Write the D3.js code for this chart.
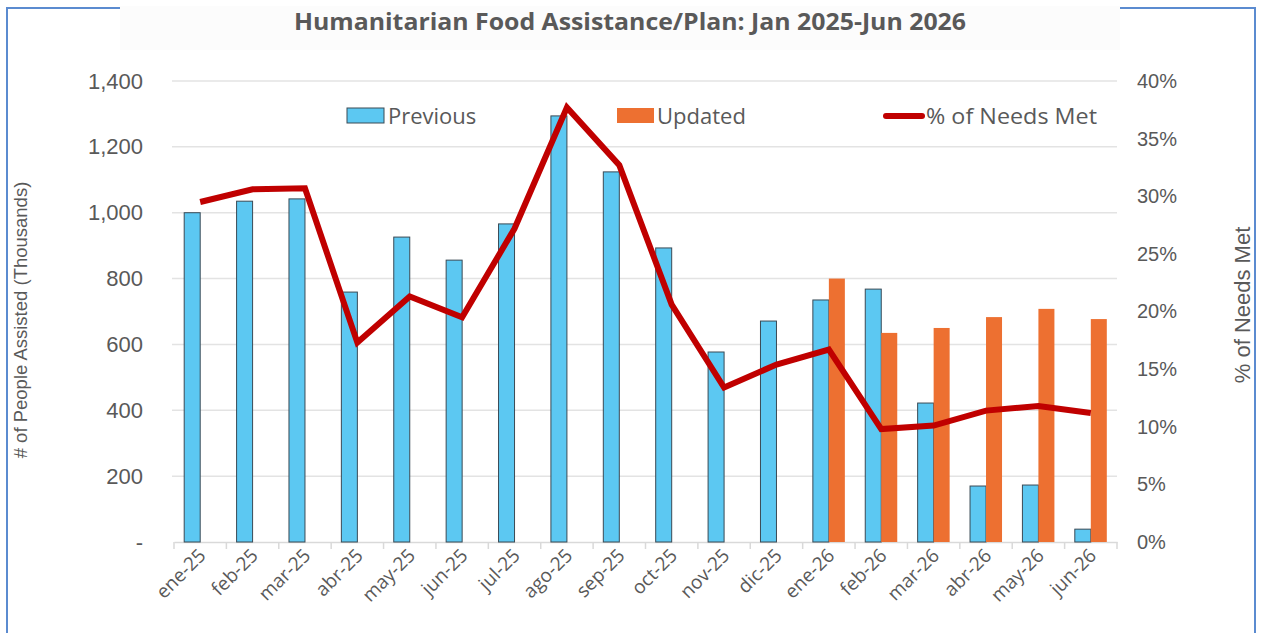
<!DOCTYPE html>
<html>
<head>
<meta charset="utf-8">
<script src="https://cdn.jsdelivr.net/npm/d3@7"></script>
<style>
  body { margin: 0; background: #fff; }
  .tick text { fill: #595959; }
</style>
</head>
<body>
<div id="chart"></div>
<script>
const months = ["ene-25", "feb-25", "mar-25", "abr-25", "may-25", "jun-25", "jul-25", "ago-25", "sep-25",
   "oct-25", "nov-25", "dic-25", "ene-26", "feb-26", "mar-26", "abr-26", "may-26", "jun-26"];
const previous = [1000, 1035, 1042, 759, 926, 856, 966, 1294, 1124, 893, 577, 671, 735, 768, 422, 170, 173, 39];
const updated = [null, null, null, null, null, null, null, null, null, null, null, null, 800, 635, 650, 683, 708, 677];
const needsMet = [29.5, 30.6, 30.7, 17.3, 21.3, 19.5, 27.2, 37.7, 32.7, 20.6, 13.4, 15.4, 16.7, 9.8, 10.1, 11.4, 11.8, 11.2];
const leftTicks = [0, 200, 400, 600, 800, 1000, 1200, 1400];
const rightTicks = [0, 5, 10, 15, 20, 25, 30, 35, 40];

const width = 1263;
const height = 633;
const margin = { top: 81, right: 146, bottom: 91, left: 174 };

const narrow = "'Liberation Sans Narrow', 'Arial Narrow', 'Open Sans', sans-serif";
const gray = "#595959";

const svg = d3.select("#chart").append("svg")
   .attr("width", width)
   .attr("height", height);

// frame
svg.append("rect")
   .attr("x", 7).attr("y", 8)
   .attr("width", 1248).attr("height", 640)
   .attr("fill", "none")
   .attr("stroke", "#5b8bd0")
   .attr("stroke-width", 2);

svg.append("rect")
   .attr("x", 120).attr("y", 6)
   .attr("width", 1000).attr("height", 44)
   .attr("fill", "#fcfcfc");

svg.append("text")
   .attr("x", 630)
   .attr("y", 30)
   .attr("text-anchor", "middle")
   .attr("textLength", 672)
   .attr("lengthAdjust", "spacingAndGlyphs")
   .style("font-family", narrow)
   .style("font-weight", "bold")
   .style("font-size", "24px")
   .style("fill", gray)
   .text("Humanitarian Food Assistance/Plan: Jan 2025-Jun 2026");

const x = d3.scaleBand()
   .domain(months)
   .range([margin.left, width - margin.right]);

const y = d3.scaleLinear()
   .domain([0, 1400])
   .range([height - margin.bottom, margin.top]);

const y2 = d3.scaleLinear()
   .domain([0, 40])
   .range([height - margin.bottom, margin.top]);

const barW = 16;

// gridlines
svg.append("g")
   .selectAll("line")
   .data(leftTicks.slice(1))
   .enter()
   .append("line")
   .attr("x1", margin.left - 2)
   .attr("x2", width - margin.right)
   .attr("y1", d => y(d))
   .attr("y2", d => y(d))
   .attr("stroke", "#e3e3e3")
   .attr("stroke-width", 1.5);

// left axis
const yAxis = d3.axisLeft(y)
   .tickValues(leftTicks)
   .tickSize(0)
   .tickPadding(31)
   .tickFormat(d => d === 0 ? "-" : d3.format(",")(d));

svg.append("g")
   .attr("transform", `translate(${margin.left},0)`)
   .call(yAxis)
   .call(g => g.select(".domain").remove())
   .selectAll("text")
   .style("font-family", "'Liberation Sans', Arial, sans-serif")
   .style("font-size", "22px");

// right axis
const yAxis2 = d3.axisRight(y2)
   .tickValues(rightTicks)
   .tickSize(0)
   .tickPadding(20)
   .tickFormat(d => d + "%");

svg.append("g")
   .attr("transform", `translate(${width - margin.right},0)`)
   .call(yAxis2)
   .call(g => g.select(".domain").remove())
   .selectAll("text")
   .style("font-family", "'Liberation Sans', Arial, sans-serif")
   .style("font-size", "20px");

// x axis
const xAxis = d3.axisBottom(x).tickSize(0).tickPadding(0);

const xg = svg.append("g")
   .attr("transform", `translate(0,${height - margin.bottom})`)
   .call(xAxis);

xg.select(".domain")
   .attr("stroke", "#d9d9d9")
   .attr("stroke-width", 1.5);

xg.selectAll(".tick text")
   .attr("text-anchor", "end")
   .attr("transform", "translate(2,10) rotate(-45)")
   .attr("dy", "0.35em")
   .style("font-family", narrow)
   .style("font-size", "19px");

// tick marks at band edges
xg.append("g")
   .selectAll("line")
   .data(months.concat(["end"]))
   .enter()
   .append("line")
   .attr("x1", (d, i) => margin.left + i * x.bandwidth())
   .attr("x2", (d, i) => margin.left + i * x.bandwidth())
   .attr("y1", 0)
   .attr("y2", 7)
   .attr("stroke", "#d9d9d9")
   .attr("stroke-width", 1.5);

// bars
svg.append("g")
   .selectAll("rect")
   .data(months)
   .enter()
   .append("rect")
   .attr("x", d => x(d) + x.bandwidth() / 2 - barW)
   .attr("y", (d, i) => y(previous[i]))
   .attr("width", barW)
   .attr("height", (d, i) => y(0) - y(previous[i]))
   .attr("fill", "#5cc8f2")
   .attr("stroke", "#3a4a55")
   .attr("stroke-width", 1);

svg.append("g")
   .selectAll("rect")
   .data(months.filter((d, i) => updated[i] != null))
   .enter()
   .append("rect")
   .attr("x", d => x(d) + x.bandwidth() / 2)
   .attr("y", d => y(updated[months.indexOf(d)]))
   .attr("width", barW)
   .attr("height", d => y(0) - y(updated[months.indexOf(d)]))
   .attr("fill", "#ed7031");

// line
const line = d3.line()
   .x((d, i) => x(months[i]) + x.bandwidth() / 2)
   .y(d => y2(d));

svg.append("path")
   .datum(needsMet)
   .attr("d", line)
   .attr("fill", "none")
   .attr("stroke", "#c00000")
   .attr("stroke-width", 6)
   .attr("stroke-linejoin", "miter");

// axis titles
svg.append("text")
   .attr("transform", "translate(27,320) rotate(-90)")
   .attr("text-anchor", "middle")
   .style("font-family", "'Liberation Sans', Arial, sans-serif")
   .style("font-size", "18.5px")
   .style("fill", gray)
   .text("# of People Assisted (Thousands)");

svg.append("text")
   .attr("transform", "translate(1250,305) rotate(-90)")
   .attr("text-anchor", "middle")
   .style("font-family", "'Liberation Sans', Arial, sans-serif")
   .style("font-size", "22px")
   .style("fill", gray)
   .text("% of Needs Met");

// legend
const legend = svg.append("g").style("font-family", narrow).style("font-size", "22px");

legend.append("rect")
   .attr("x", 347).attr("y", 108).attr("width", 37).attr("height", 15)
   .attr("fill", "#5cc8f2").attr("stroke", "#3a4a55");
legend.append("text").attr("x", 388).attr("y", 124).style("fill", gray).text("Previous");

legend.append("rect")
   .attr("x", 617).attr("y", 108).attr("width", 37).attr("height", 15)
   .attr("fill", "#ed7031");
legend.append("text").attr("x", 657).attr("y", 124).style("fill", gray).text("Updated");

legend.append("line")
   .attr("x1", 886).attr("x2", 922).attr("y1", 116).attr("y2", 116)
   .attr("stroke", "#c00000").attr("stroke-width", 6).attr("stroke-linecap", "round");
legend.append("text").attr("x", 926).attr("y", 124)
   .attr("textLength", 171).attr("lengthAdjust", "spacingAndGlyphs")
   .style("fill", gray).text("% of Needs Met");
</script>
</body>
</html>
